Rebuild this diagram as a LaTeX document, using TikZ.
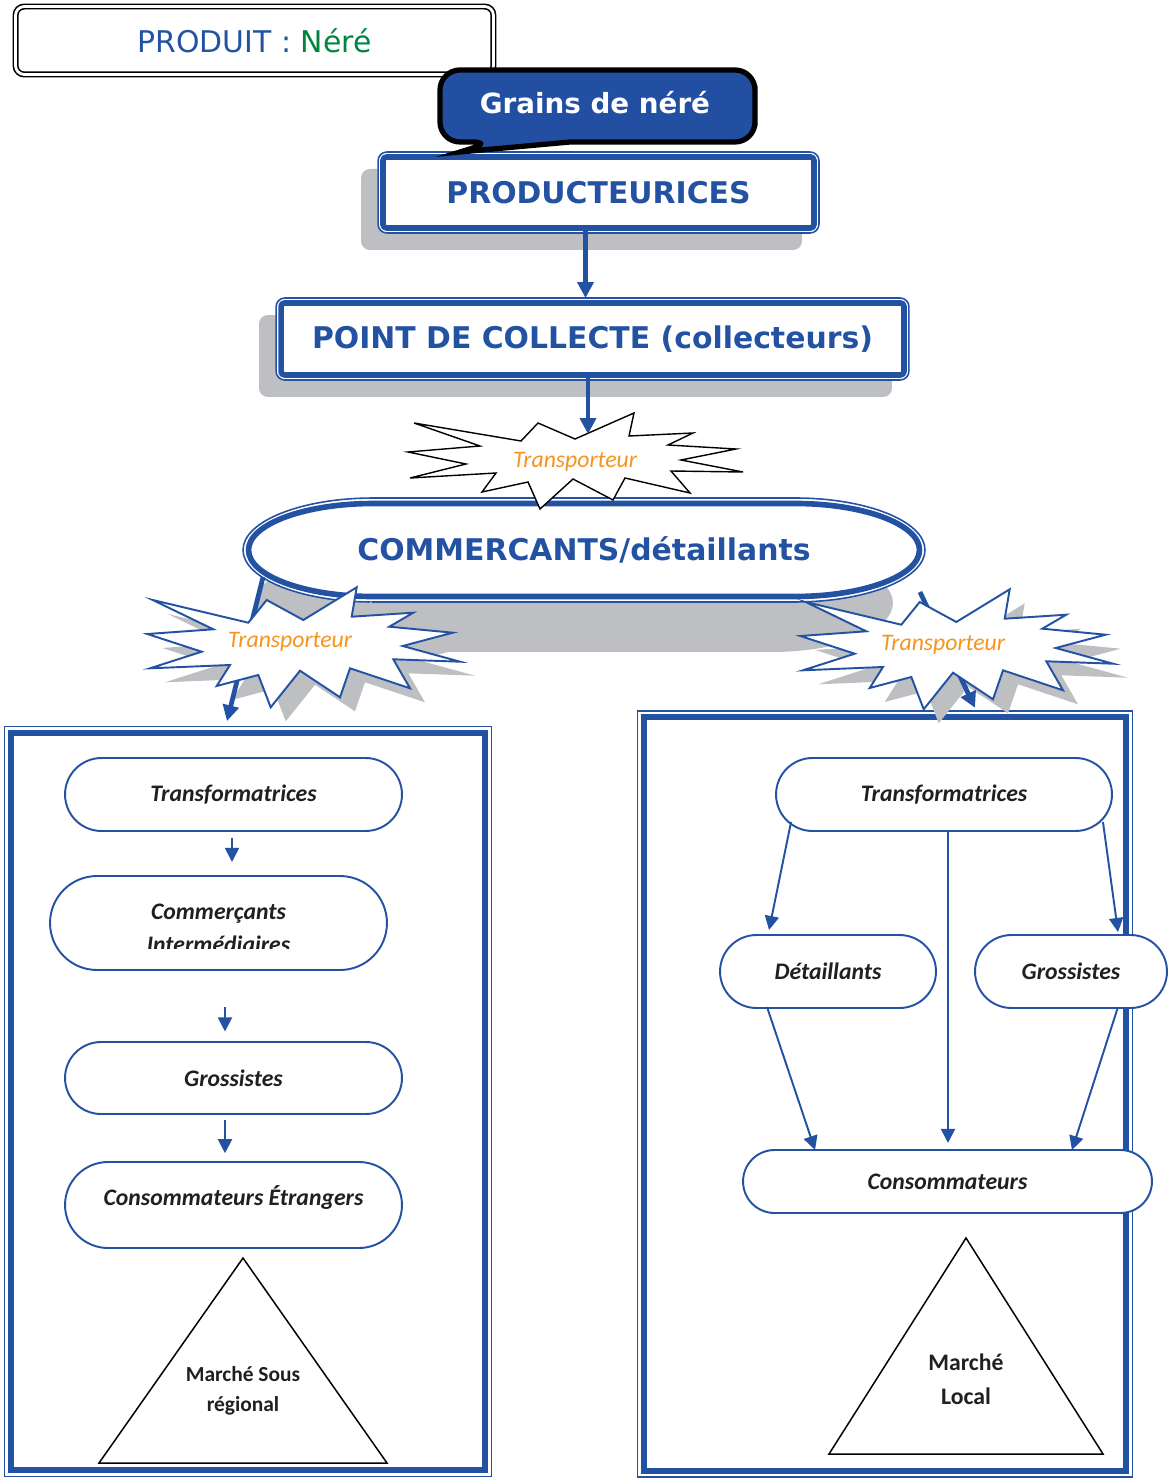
\documentclass[tikz,border=0pt]{standalone}
\usepackage{fontspec}
\setmainfont{Carlito}
\newfontfamily\dejavu{DejaVu Sans}
\usetikzlibrary{arrows.meta, positioning, fit, calc, backgrounds, shapes.misc, shadows}

\definecolor{lineblue}{RGB}{35,82,163}
\definecolor{calloutblue}{RGB}{34,79,162}
\definecolor{shadowgray}{RGB}{190,191,195}
\definecolor{transorange}{RGB}{247,148,29}
\definecolor{neregreen}{RGB}{0,133,62}
\definecolor{textblack}{RGB}{35,31,32}

\tikzset{
  % irregular star used for the two lower carriers
  burst/.pic={
    \path[pic actions] (-147.3,-45) -- (-51.7,-22.3) -- (-33.3,-45) -- (3.3,-25) -- (56.7,-57.7) -- (51.7,-28.3)
      -- (113.3,-32.3) -- (89.3,-18.3) -- (152.7,-12.3) -- (102.7,1) -- (160,16.7) -- (93.3,14.3)
      -- (110,43.3) -- (50,23.3) -- (40,52.3) -- (0,25.7) -- (-29.3,62.3) -- (-41.7,30)
      -- (-83.3,41) -- (-70,20) -- (-150,23.3) -- (-98.3,6.7) -- (-152.7,-11) -- (-86.7,-15.7) -- cycle;
  },
  % flatter star under the collection point
  topburst/.pic={
    \path[pic actions] (-161,-39) -- (-54,-21) -- (-37,-39) -- (0,-23) -- (59,-49) -- (54,-26)
      -- (118,-29) -- (93,-17) -- (161,-13) -- (106,-2) -- (168,10) -- (96,9)
      -- (115,31) -- (50,16) -- (38,38) -- (-2,17) -- (-35,47) -- (-47,20)
      -- (-93,30) -- (-79,11) -- (-165,16) -- (-109,2) -- (-167,-10) -- (-95,-16) -- cycle;
  }
}

\begin{document}
\begin{tikzpicture}[
    x=0.02cm, y=-0.02cm,
    titlebox/.style={rectangle, rounded corners=5pt, draw=black, line width=0.9pt, double=white, double distance=1.6pt, minimum width=9.56cm, minimum height=1.36cm, font=\dejavu\fontsize{17}{20}\selectfont},
    headbox/.style={rectangle, rounded corners=2pt, draw=lineblue, line width=3.2pt, fill=white, outer sep=0pt, inner sep=0pt, text=lineblue, font=\dejavu\bfseries\fontsize{17}{20}\selectfont},
    headframe/.style={rectangle, rounded corners=5pt, draw=lineblue, line width=0.9pt, fill=white, outer sep=0pt, inner sep=0.1cm, drop shadow={shadow xshift=-0.34cm, shadow yshift=-0.34cm, fill=shadowgray, opacity=1}},
    grainsline/.style={draw=black, line width=3pt, fill=calloutblue},
    grainstext/.style={text=white, font=\dejavu\bfseries\fontsize{15.8}{18}\selectfont},
    commtext/.style={text=lineblue, outer sep=0pt, font=\dejavu\bfseries\fontsize{17}{20}\selectfont},
    transp/.style={text=transorange, font=\fontsize{13.5}{16}\selectfont\itshape},
    framebox/.style={rectangle, draw=lineblue, line width=3.6pt, outer sep=0pt, inner sep=0pt},
    frameout/.style={rectangle, draw=lineblue, line width=0.8pt, outer sep=0pt, inner sep=0.13cm},
    stadium/.style={rounded rectangle, draw=lineblue, line width=1.1pt, fill=white, outer sep=0pt, inner sep=0pt, text=textblack, font=\fontsize{13.5}{18.8}\selectfont\bfseries\itshape},
    itlabel/.style={text=textblack, inner sep=0pt, font=\fontsize{13.5}{18.8}\selectfont\bfseries\itshape},
    market/.style={align=center, text=textblack, font=\bfseries},
    tri/.style={draw=black, line width=0.85pt},
    bluearrow/.style={draw=lineblue, line width=1.1pt, -{Triangle[length=8pt, width=8pt]}},
    bigarrow/.style={draw=lineblue, line width=2.7pt, -{Triangle[length=9pt, width=9pt]}}
]
\useasboundingbox (0,0) rectangle (1168,1479);

% product
\node[titlebox] (produit) at (254.5,40.5) {\textcolor{lineblue}{PRODUIT :} \textcolor{neregreen}{Néré}};

% main chain
\node[headbox, minimum width=8.62cm, minimum height=1.42cm] (prod) at (598.5,192.5) {PRODUCTEURICES};
\node[headbox, minimum width=12.46cm, minimum height=1.44cm] (collect) at (592.5,339) {POINT DE COLLECTE (collecteurs)};
\begin{scope}[on background layer]
  \node[headframe, fit=(prod)] (prodframe) {};
  \node[headframe, fit=(collect)] (collectframe) {};
\end{scope}

% callout
\coordinate (grainsc) at (597.5,106);
\draw[grainsline] ($(grainsc)+(157.5,0)$) [rounded corners=0.4cm] -- ($(grainsc)+(157.5,-36)$) -- ($(grainsc)+(-157.5,-36)$)
  -- ($(grainsc)+(-157.5,36)$) -- ($(grainsc)+(-105.5,36)$) [sharp corners] -- ($(grainsc)+(-137.5,46)$)
  -- ($(grainsc)+(-27.5,36)$) [rounded corners=0.4cm] -- ($(grainsc)+(157.5,36)$) -- cycle;
\node[grainstext] (grains) at ($(grainsc)+(-2.5,-3)$) {Grains de néré};

\draw[bigarrow] ($(prod.south)+(-13,0)$) -- ($(prod.south |- collectframe.north)+(-13,0)$);

% traders
\coordinate (commc) at (584,550);
\fill[shadowgray] ($(commc)+(-209,4)$) -- ($(commc)+(189,4)$) arc[start angle=90, end angle=-90, x radius=2.4cm, y radius=0.98cm]
  -- ($(commc)+(-209,102)$) arc[start angle=270, end angle=90, x radius=2.4cm, y radius=0.98cm] -- cycle;
\draw[lineblue, line width=0.9pt, fill=white] ($(commc)+(-211,-52)$) -- ($(commc)+(211,-52)$) arc[start angle=90, end angle=-90, x radius=2.6cm, y radius=1.04cm]
  -- ($(commc)+(-211,52)$) arc[start angle=270, end angle=90, x radius=2.6cm, y radius=1.04cm] -- cycle;
\draw[lineblue, line width=3.2pt] ($(commc)+(-211,-46.5)$) -- ($(commc)+(211,-46.5)$) arc[start angle=90, end angle=-90, x radius=2.49cm, y radius=0.93cm]
  -- ($(commc)+(-211,46.5)$) arc[start angle=270, end angle=90, x radius=2.49cm, y radius=0.93cm] -- cycle;
\node[commtext, minimum width=13.64cm, minimum height=2.08cm] (comm) at (commc) {COMMERCANTS/détaillants};

% first carrier
\coordinate (burstT) at (575,462);
\pic[draw=black, fill=white, line width=0.8pt] at (burstT) {topburst};
\node[transp] (tr1) at (burstT) {Transporteur};
\coordinate (tr1in) at ($(tr1)+(13,-28)$);
\draw[bigarrow] (collect.south -| tr1in) -- (tr1in);

% markets
\node[framebox, minimum width=9.49cm, minimum height=14.74cm] (lbox) at (248,1101.5) {};
\node[frameout, fit=(lbox)] (lboxout) {};
\node[framebox, minimum width=9.64cm, minimum height=15.07cm] (rbox) at (885,1094) {};
\node[frameout, fit=(rbox)] (rboxout) {};

% lower carriers
\coordinate (burstL) at (300,645);
\coordinate (burstR) at (953,647);
\pic[fill=shadowgray] at ($(burstL)+(15,14)$) {burst};
\pic[fill=shadowgray] at ($(burstR)+(15,14)$) {burst};
\draw[bigarrow] ($(comm.south west)+(20,-25)$) -- ($(lbox.north)+(-21,-12)$);
\draw[bigarrow] ($(comm.south east)+(-5,-10)$) -- ($(rbox.north)+(90,-9.5)$);
\pic[draw=lineblue, fill=white, line width=1.1pt] at (burstL) {burst};
\pic[draw=lineblue, fill=white, line width=1.1pt] at (burstR) {burst};
\node[transp] (tr2) at ($(burstL)+(-10,-3)$) {Transporteur};
\node[transp] (tr3) at ($(burstR)+(-10,-2)$) {Transporteur};

% foreign market
\node[stadium, minimum width=6.74cm, minimum height=1.46cm] (tf1) at (233.5,794.5) {Transformatrices};
\node[stadium, minimum width=6.74cm, minimum height=1.88cm] (ci) at (218.5,923) {};
\begin{scope}
  \clip (ci.west |- ci.north) rectangle ($(ci.east)+(0,25)$);
  \node[itlabel, align=center] (citext) at ($(ci.center)+(0,5.5)$) {Commerçants\\Intermédiaires};
\end{scope}
\node[stadium, minimum width=6.74cm, minimum height=1.44cm] (gr1) at (233.5,1078) {Grossistes};
\node[stadium, minimum width=6.74cm, minimum height=1.72cm, text depth=11pt] (ce) at (233.5,1205) {Consommateurs Étrangers};

\draw[bluearrow, shorten <=4pt, shorten >=8pt] ($(tf1.south)+(-1.5,0)$) -- ($(tf1.south |- ci.north)+(-1.5,0)$);
\draw[bluearrow, shorten <=21pt, shorten >=6pt] ($(ci.south)+(6.5,0)$) -- ($(ci.south |- gr1.north)+(6.5,0)$);
\draw[bluearrow, shorten <=3.4pt, shorten >=5pt] ($(gr1.south)+(-8.5,0)$) -- ($(gr1.south |- ce.north)+(-8.5,0)$);

\draw[tri] (243,1258) -- (387,1463) -- (99,1463) -- cycle;
\node[market, font=\bfseries\fontsize{12.2}{17}\selectfont] (msr) at (243,1391) {Marché Sous\\régional};

% local market
\node[stadium, minimum width=6.72cm, minimum height=1.46cm] (tf2) at (944,794.5) {Transformatrices};
\node[stadium, minimum width=4.32cm, minimum height=1.46cm] (det) at (828,971.5) {Détaillants};
\node[stadium, minimum width=3.84cm, minimum height=1.46cm] (gro) at (1071,971.5) {Grossistes};
\node[stadium, minimum width=8.18cm, minimum height=1.26cm] (cons) at (947.5,1181.5) {Consommateurs};

\draw[bluearrow] ($(tf2.west |- tf2.south)+(15,-9)$) -- ($(det.west |- det.north)+(49,-5)$);
\draw[bluearrow] ($(tf2.east |- tf2.south)+(-9,-9)$) -- ($(gro.west |- gro.north)+(143,-3)$);
\draw[bluearrow, shorten >=4pt] ($(tf2.south)+(4,0)$) -- ($(tf2.south |- cons.north)+(4,0)$);
\draw[bluearrow] ($(det.west |- det.south)+(47,-1)$) -- ($(cons.west |- cons.north)+(72,0)$);
\draw[bluearrow] ($(gro.east |- gro.south)+(-49,-1)$) -- ($(cons.east |- cons.north)+(-80,0)$);

\draw[tri] (966,1238) -- (1103,1454) -- (829,1454) -- cycle;
\node[market, font=\bfseries\fontsize{13.5}{19.4}\selectfont] (ml) at (966,1379) {Marché\\Local};
\end{tikzpicture}
\end{document}
